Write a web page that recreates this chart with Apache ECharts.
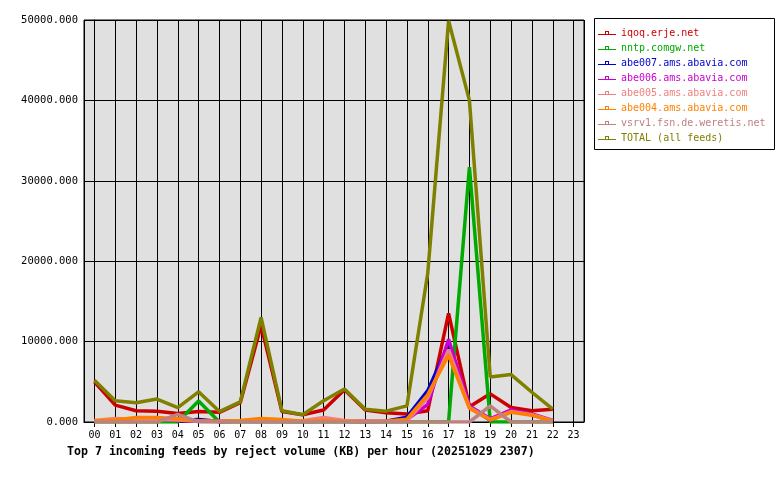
<!DOCTYPE html>
<html><head><meta charset="utf-8">
<script src="https://cdn.jsdelivr.net/npm/echarts@6/dist/echarts.min.js"></script>
<style>html,body{margin:0;padding:0;background:#fff}#c{width:780px;height:480px}</style>
</head><body><div id="c"></div>
<script>
const hours = ["00","01","02","03","04","05","06","07","08","09","10","11","12","13","14","15","16","17","18","19","20","21","22","23"];
const yTicks = [0, 10000, 20000, 30000, 40000, 50000];
const seriesNames = ["iqoq.erje.net","nntp.comgw.net","abe007.ams.abavia.com","abe006.ams.abavia.com","abe005.ams.abavia.com","abe004.ams.abavia.com","vsrv1.fsn.de.weretis.net","TOTAL (all feeds)"];
const seriesColors = ["#cc0000","#00aa00","#0000cc","#cc00cc","#f08080","#ff8000","#c08080","#808000"];

const iqoq   = [5000,2100,1400,1350,1050,1300,1200,2400,12000,1300,900,1500,4000,1500,1150,1000,1400,13500,1900,3500,1800,1400,1600];
const nntp   = [0,0,0,0,0,2600,0,0,0,0,0,0,0,0,0,0,0,0,31700,0,0,0,0];
const abe007 = [100,150,450,500,200,300,50,100,150,100,50,100,100,50,100,600,3900,9700,1900,200,1400,900,100];
const abe006 = [100,150,300,350,200,100,50,150,250,150,100,200,100,50,100,300,2200,10300,2000,400,1500,1000,200];
const abe005 = [200,450,350,300,250,100,100,150,200,150,150,550,200,100,100,150,3000,9000,1800,300,1300,900,150];
const abe004 = [150,250,550,550,400,150,50,200,450,300,100,150,100,50,100,350,3400,8300,1700,250,1200,850,100];
const vsrv1  = [0,0,0,0,950,0,0,0,0,0,0,0,0,0,0,0,0,0,0,2000,0,0,0];
const total  = [5200,2650,2400,2850,1800,3750,1300,2500,13000,1400,900,2650,4100,1600,1350,2000,18500,49900,40000,5600,5900,3700,1600];

const allData = [iqoq, nntp, abe007, abe006, abe005, abe004, vsrv1, total];
const mono = "DejaVu Sans Mono";
const legendIcon = "path://M0,3H7V0H11V3H18V4H0Z M8,1V3H10V1Z";

const chart = echarts.init(document.getElementById('c'), null, {renderer: 'canvas'});
chart.setOption({
  animation: false,
  backgroundColor: '#ffffff',
  grid: {left: 84, top: 20, right: 196, bottom: 58, show: true, backgroundColor: '#e0e0e0', borderColor: '#000', borderWidth: 1},
  title: {
    text: "Top 7 incoming feeds by reject volume (KB) per hour (20251029 2307)",
    left: 67, top: 446, padding: 0,
    textStyle: {fontFamily: mono, fontWeight: 'bold', fontSize: 11.6, color: '#000'}
  },
  legend: {
    orient: 'vertical', left: 598, top: 27, padding: 0, itemGap: 3,
    itemWidth: 18, itemHeight: 4, icon: legendIcon,
    textStyle: {fontFamily: mono, fontSize: 10, lineHeight: 12, padding: [0,0,0,0]},
    data: seriesNames.map((n, i) => ({name: n, textStyle: {color: seriesColors[i]}})),
    selectedMode: false
  },
  graphic: [{
    type: 'rect', z: -1, silent: true,
    shape: {x: 594.5, y: 18.5, width: 180, height: 131},
    style: {fill: '#fff', stroke: '#000', lineWidth: 1}
  }],
  xAxis: {
    type: 'value', min: -0.5, max: 23.5, splitNumber: 24,
    axisLine: {show: true, lineStyle: {color: '#000', width: 1}},
    axisTick: {show: true, length: 5, lineStyle: {color: '#000'}},
    splitLine: {show: true, lineStyle: {color: '#000', width: 1}},
    axisLabel: {
      showMinLabel: false, showMaxLabel: false, margin: 8,
      fontFamily: mono, fontSize: 10, color: '#000',
      formatter: v => Number.isInteger(v) && hours[v] !== undefined ? hours[v] : ''
    }
  },
  yAxis: {
    type: 'value', min: yTicks[0], max: yTicks[yTicks.length - 1], interval: yTicks[1] - yTicks[0],
    axisLine: {show: true, lineStyle: {color: '#000', width: 1}},
    axisTick: {show: true, length: 4, lineStyle: {color: '#000'}},
    splitLine: {show: true, lineStyle: {color: '#000', width: 1}},
    axisLabel: {margin: 6, fontFamily: mono, fontSize: 10.5, color: '#000', formatter: v => v.toFixed(3)}
  },
  series: allData.map((arr, i) => ({
    name: seriesNames[i], type: 'line', showSymbol: false, symbol: 'none',
    color: seriesColors[i],
    lineStyle: {color: seriesColors[i], width: 3.5},
    data: arr.map((v, h) => [h, v])
  }))
});
</script></body></html>
